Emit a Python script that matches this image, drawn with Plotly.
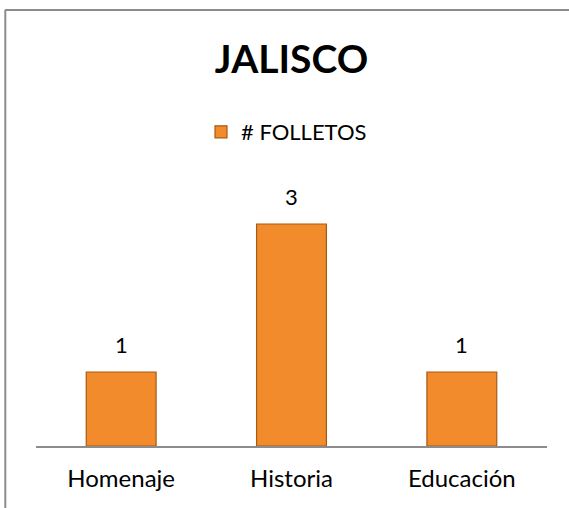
import plotly.graph_objects as go

categories = ["Homenaje", "Historia", "Educación"]
values = [1, 3, 1]
series_name = "# FOLLETOS"
title_text = "JALISCO"

W, H = 569, 508
L, R, T, B = 36, 22, 187, 62
pw, ph = W - L - R, H - T - B
FONT = "Lato, Open Sans, sans-serif"

def px_x(x):
    return (x - L) / pw

def px_y(y):
    return (H - B - y) / ph

fig = go.Figure()
fig.add_trace(go.Bar(
    x=categories, y=values, name=series_name,
    width=0.41,
    marker=dict(color="#F28B2C", line=dict(color="#A85A12", width=1.2)),
    showlegend=True,
))

annotations = [
    dict(x=c, y=v, xref="x", yref="y", text=str(v), showarrow=False,
         yanchor="middle", yshift=28,
         font=dict(family=FONT, size=22, color="#000000"))
    for c, v in zip(categories, values)
]

fig.update_layout(
    width=W, height=H,
    margin=dict(l=L, r=R, t=T, b=B),
    paper_bgcolor="white", plot_bgcolor="white",
    title=dict(text="<b>" + title_text + "</b>", xref="paper", x=0.5, xanchor="center",
               yref="container", y=1 - 59 / H, yanchor="middle",
               font=dict(family=FONT, size=39, color="#000000")),
    legend=dict(orientation="h", xref="paper", x=px_x(201), xanchor="left",
                yref="paper", y=px_y(132), yanchor="middle",
                font=dict(family=FONT, size=22, color="#000000"),
                itemwidth=30, bgcolor="rgba(0,0,0,0)"),
    xaxis=dict(showline=True, linecolor="#8C8C8C", linewidth=2, ticks="", showgrid=False,
               tickfont=dict(family=FONT, size=24, color="#000000"),
               ticklabelstandoff=10, range=[-0.5, 2.5]),
    yaxis=dict(visible=False, range=[0, 3.5], showgrid=False),
    annotations=annotations,
    shapes=[
        dict(type="line", xref="paper", yref="paper", x0=px_x(5), x1=px_x(W + 5),
             y0=px_y(10), y1=px_y(10), line=dict(color="#8C8C8C", width=2)),
        dict(type="line", xref="paper", yref="paper", x0=px_x(5.3), x1=px_x(5.3),
             y0=px_y(10), y1=px_y(H + 5), line=dict(color="#8C8C8C", width=2)),
    ],
)

fig.write_html("out.html", config={"displayModeBar": False},
               post_script="document.body.style.margin='0px';")
